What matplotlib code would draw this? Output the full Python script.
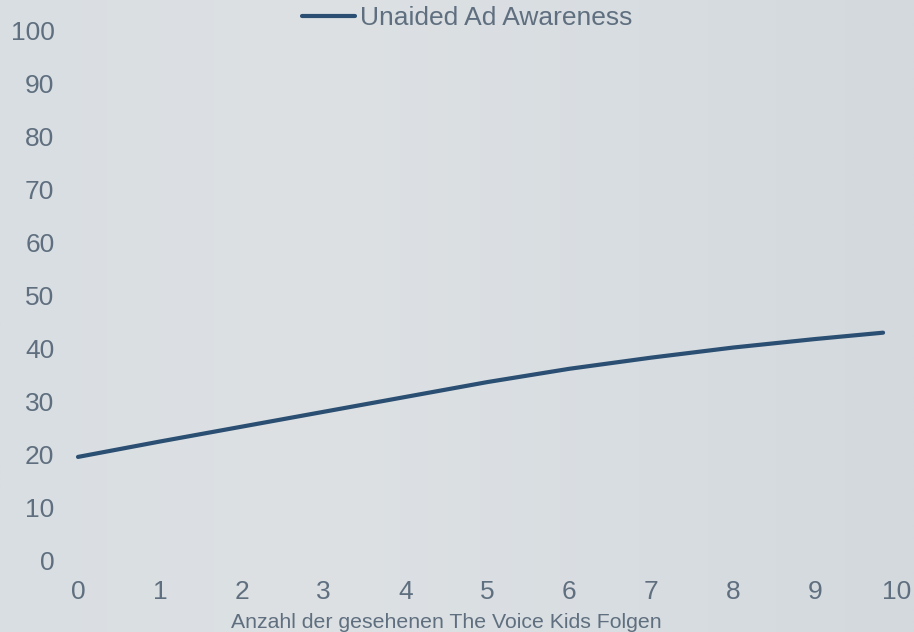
import matplotlib
matplotlib.use("Agg")
import matplotlib.pyplot as plt
import numpy as np

# Anzahl gesehener Folgen vs. ungestützte Werbeerinnerung (%)
folgen = [0, 1, 2, 3, 4, 5, 6, 7, 8, 9, 9.83]
awareness = [19.6, 22.5, 25.3, 28.1, 30.9, 33.7, 36.2, 38.3, 40.2, 41.8, 43.0]
x_ticks = list(range(0, 11))
y_ticks = list(range(0, 101, 10))

text_col = "#5f6f7f"
line_col = "#2b4f72"

plt.rcParams["font.family"] = ["Liberation Sans", "DejaVu Sans"]

fig = plt.figure(figsize=(9.14, 6.32), dpi=100)

# background: soft horizontal grey gradient
bg = fig.add_axes([0, 0, 1, 1], zorder=-10)
stops_x = [0.0, 0.35, 0.7, 1.0]
stops_c = np.array([[217, 222, 226], [221, 225, 228], [216, 221, 225], [212, 217, 222]]) / 255
xs = np.linspace(0, 1, 400)
grad = np.stack([np.interp(xs, stops_x, stops_c[:, i]) for i in range(3)], axis=-1)
bg.imshow(grad[np.newaxis, :, :], aspect="auto", extent=[0, 1, 0, 1])
bg.axis("off")

ax = fig.add_axes([78 / 914, 1 - 561 / 632, 819 / 914, 531 / 632])
ax.set_facecolor("none")
ax.plot(folgen, awareness, color=line_col, lw=3.0, solid_capstyle="round",
        label="Unaided Ad Awareness", clip_on=False)

ax.set_xlim(0, 10)
ax.set_ylim(0, 100)
ax.set_xticks(x_ticks)
ax.set_yticks(y_ticks)
ax.tick_params(axis="both", length=0, labelsize=19, labelcolor=text_col)
ax.tick_params(axis="y", pad=17)
ax.tick_params(axis="x", pad=14)
for s in ax.spines.values():
    s.set_visible(False)

fig.text(446 / 914, 1 - 622 / 632, "Anzahl der gesehenen The Voice Kids Folgen",
         ha="center", va="center", fontsize=15.3, color=text_col)

leg = ax.legend(loc="center", bbox_to_anchor=(467 / 914, 1 - 18 / 632),
                bbox_transform=fig.transFigure, frameon=False, fontsize=19,
                handlelength=2.0, handletextpad=0.2, borderpad=0, borderaxespad=0)
for t in leg.get_texts():
    t.set_color(text_col)

fig.savefig("out.png", dpi=100)
